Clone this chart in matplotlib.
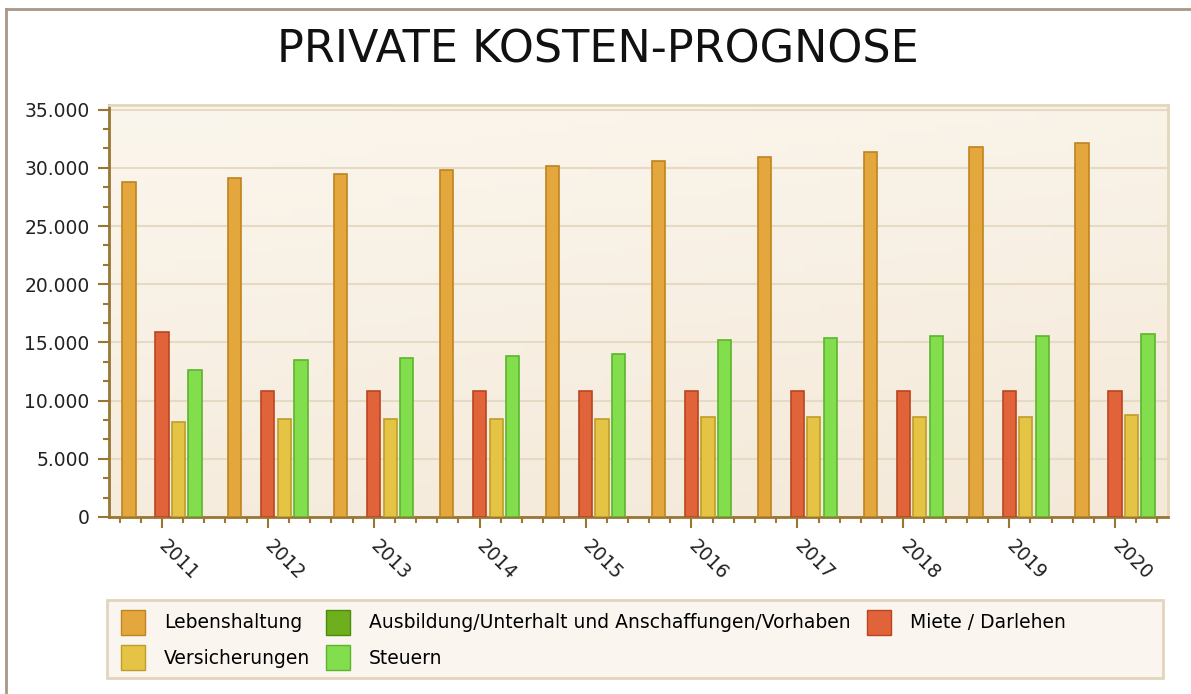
import matplotlib
matplotlib.use("Agg")
import matplotlib.pyplot as plt
import numpy as np
from matplotlib.patches import Rectangle, Patch
from matplotlib.lines import Line2D
from matplotlib.ticker import MultipleLocator, FuncFormatter

years = ["2011", "2012", "2013", "2014", "2015", "2016", "2017", "2018", "2019", "2020"]
lebenshaltung = [28800, 29150, 29500, 29850, 30200, 30550, 30900, 31400, 31750, 32100]
ausbildung = [0, 0, 0, 0, 0, 0, 0, 0, 0, 0]
miete = [15900, 10800, 10800, 10800, 10800, 10800, 10800, 10800, 10800, 10800]
versicherungen = [8200, 8400, 8400, 8400, 8400, 8570, 8570, 8570, 8570, 8750]
steuern = [12650, 13500, 13700, 13850, 14000, 15200, 15400, 15550, 15550, 15750]

series = [
    ("Lebenshaltung", lebenshaltung, "#E3A73D", "#BF8420"),
    ("Ausbildung/Unterhalt und Anschaffungen/Vorhaben", ausbildung, "#6DAF1C", "#4E8A0E"),
    ("Miete / Darlehen", miete, "#E0633A", "#B94520"),
    ("Versicherungen", versicherungen, "#E5C445", "#BE9D2A"),
    ("Steuern", steuern, "#82DE4C", "#5DB52F"),
]

W, H = 1191, 694
fig = plt.figure(figsize=(W / 100, H / 100), dpi=100, facecolor="white")
ax = fig.add_axes([109 / W, 1 - 517 / H, (1168 - 109) / W, (517 - 105) / H])

# plot background gradient (light top-left, a bit darker bottom-right)
grad = np.linspace(0, 1, 64)
gx, gy = np.meshgrid(grad, grad)
g = 0.75 * gy + 0.25 * gx
c0 = np.array([251, 246, 237]) / 255
c1 = np.array([244, 233, 217]) / 255
img = c0[None, None, :] * (1 - g[..., None]) + c1[None, None, :] * g[..., None]
ax.imshow(img, extent=(0, 1, 0, 1), transform=ax.transAxes, aspect="auto",
          zorder=0, origin="upper")

x = np.arange(len(years))
slot = 0.156
bw = 0.125
for i, (name, vals, fc, ec) in enumerate(series):
    lw = [1.2 if v > 0 else 0 for v in vals]
    ax.bar(x + (i - 2) * slot, vals, width=bw, color=fc, edgecolor=ec,
           linewidth=lw, zorder=3)

ax.set_xlim(-0.5, 9.5)
ax.set_ylim(0, 35400)
ax.yaxis.set_major_locator(MultipleLocator(5000))
ax.yaxis.set_minor_locator(MultipleLocator(5000 / 3))
ax.yaxis.set_major_formatter(FuncFormatter(lambda v, p: f"{int(v):,}".replace(",", ".")))
ax.set_xticks(x)
ax.xaxis.set_minor_locator(MultipleLocator(0.2))
ax.set_xticklabels(years, rotation=-45, ha="left", va="center", rotation_mode="anchor")

ax.grid(axis="y", which="major", color="#E6DAC4", linewidth=1.5, zorder=1)
ax.set_axisbelow(True)

brown = "#9A7634"
for s in ("left", "bottom"):
    ax.spines[s].set_color(brown)
    ax.spines[s].set_linewidth(2)
for s in ("top", "right"):
    ax.spines[s].set_color("#E4D6B8")
    ax.spines[s].set_linewidth(2)
ax.tick_params(which="major", length=8, width=1.5, color=brown, labelsize=13.5,
               labelcolor="#222222", pad=6)
ax.tick_params(which="minor", length=4, width=1.5, color=brown)
ax.tick_params(axis="x", which="major", pad=11)

fig.text(598 / W, 1 - 50 / H, "PRIVATE KOSTEN-PROGNOSE", fontsize=32,
         ha="center", va="center", color="#111111")

# legend box
fig.patches.append(Rectangle((107 / W, 1 - 678 / H), (1163 - 107) / W, 78 / H,
                             transform=fig.transFigure, facecolor="#FAF5EE",
                             edgecolor="#E2D5BC", linewidth=2, zorder=0))
handles = [Patch(facecolor=fc, edgecolor=ec, label=name) for name, _, fc, ec in series]
order = [0, 3, 1, 4, 2]
fig.legend([handles[k] for k in order], [handles[k].get_label() for k in order],
           ncol=3, loc="upper left", bbox_to_anchor=(117 / W, 1 - 606 / H),
           frameon=False, fontsize=13.5, handlelength=1.3, handleheight=1.67,
           handletextpad=1.0, columnspacing=0.85, labelspacing=0.55,
           borderpad=0.2, borderaxespad=0)

# outer frame lines
fig.add_artist(Line2D([6 / W, 6 / W], [0, 1 - 9 / H], transform=fig.transFigure,
                      color="#A8978A", linewidth=2))
fig.add_artist(Line2D([6 / W, 1], [1 - 9 / H, 1 - 9 / H], transform=fig.transFigure,
                      color="#A8978A", linewidth=2))

fig.savefig("out.png", dpi=100, facecolor="white")
